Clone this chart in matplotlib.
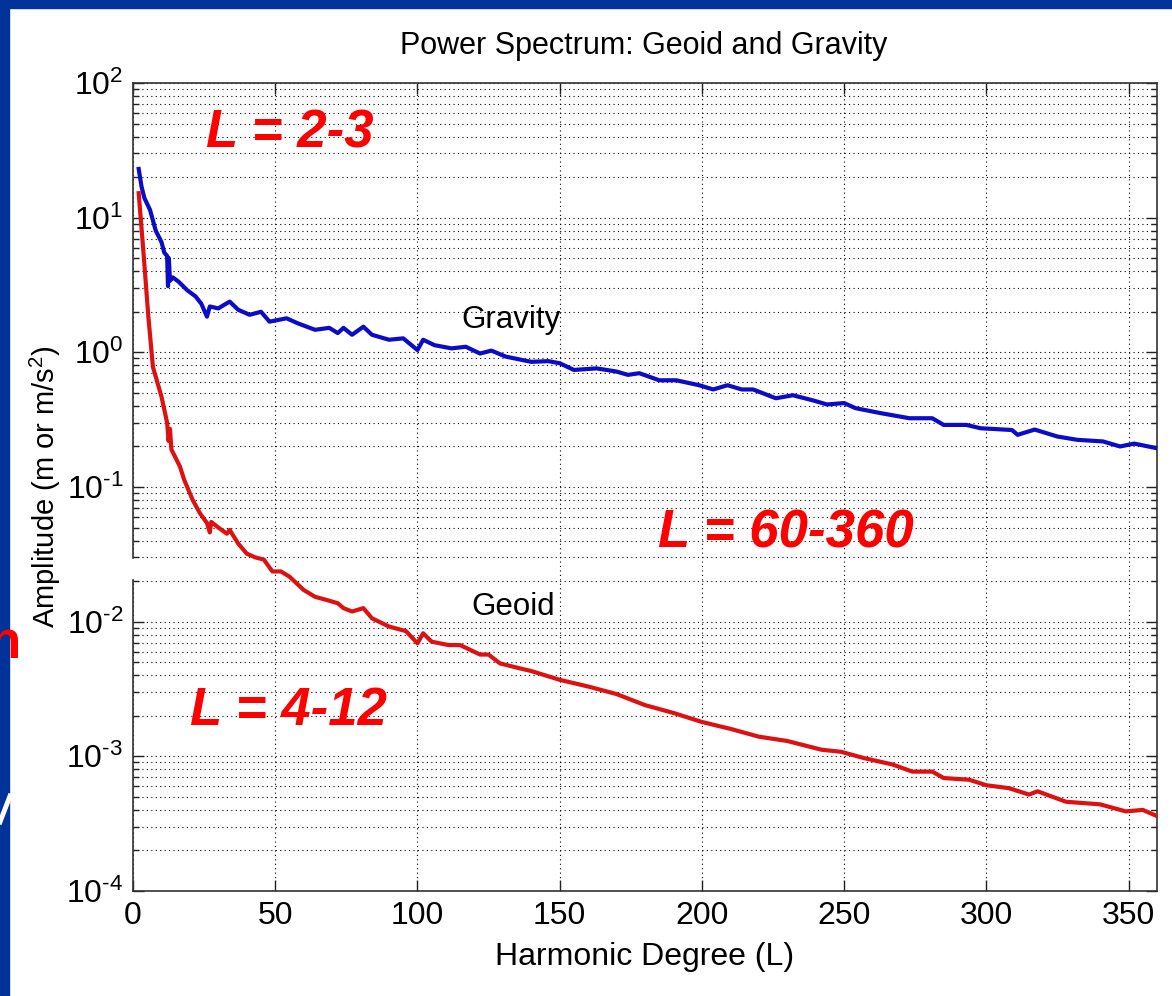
import numpy as np
import matplotlib
matplotlib.use("Agg")
import matplotlib.pyplot as plt
from matplotlib.patches import Rectangle
from matplotlib.lines import Line2D

plt.rcParams['font.family'] = ['Liberation Sans', 'DejaVu Sans']
plt.rcParams['mathtext.fontset'] = 'custom'
plt.rcParams['mathtext.rm'] = 'Liberation Sans'
plt.rcParams['mathtext.it'] = 'Liberation Sans:italic'
plt.rcParams['mathtext.bf'] = 'Liberation Sans:bold'
plt.rcParams['axes.unicode_minus'] = False

# gravity spectrum
grav_L = [2, 3, 4, 6, 8, 10, 11, 12, 12.3, 12.6, 13, 14, 16, 19, 22, 24, 26, 27,
          30, 32, 34, 37, 41, 45, 48, 54, 58, 64, 69, 72, 74, 77, 81, 84, 90, 95,
          100, 102, 106, 112, 117, 122, 126, 131, 140, 146, 150, 155, 163, 170,
          174, 178, 185, 191, 199, 204, 209, 214, 218, 226, 232, 239, 244, 250,
          254, 263, 273, 281, 285, 293, 298, 309, 311, 317, 325, 332, 341, 347,
          352, 360]
grav_amp = [23, 17, 14, 11.4, 8, 6.6, 5.5, 5.2, 3.1, 5.0, 3.4, 3.6, 3.35, 2.9,
            2.6, 2.3, 1.84, 2.19, 2.12, 2.25, 2.38, 2.07, 1.9, 2.0, 1.69, 1.79,
            1.64, 1.47, 1.52, 1.39, 1.52, 1.35, 1.55, 1.35, 1.24, 1.27, 1.04,
            1.24, 1.13, 1.07, 1.10, 0.98, 1.03, 0.93, 0.85, 0.86, 0.83, 0.74,
            0.76, 0.72, 0.68, 0.70, 0.62, 0.62, 0.57, 0.53, 0.57, 0.53, 0.53,
            0.456, 0.48, 0.44, 0.41, 0.42, 0.385, 0.353, 0.324, 0.324, 0.289,
            0.289, 0.273, 0.265, 0.244, 0.267, 0.237, 0.224, 0.218, 0.20, 0.21,
            0.194]

# geoid spectrum
geoid_L = [2, 3.6, 5.4, 7, 10, 12, 12.5, 13, 13.5, 16.5, 18, 21, 23.5, 26, 27,
           27.5, 30, 33, 34, 37, 40, 43, 46, 49, 52, 55, 60, 64, 68, 72, 74, 77,
           81, 84, 90, 96, 100, 102, 105, 111, 115, 122, 125, 129, 136, 140, 150,
           160, 170, 180, 190, 200, 210, 220, 230, 242, 249, 257, 267, 274, 281,
           285, 294, 300, 308, 315, 318, 328, 340, 349, 355, 360]
geoid_amp = [15.2, 5.8, 1.84, 0.78, 0.47, 0.30, 0.22, 0.27, 0.19, 0.142, 0.113,
             0.080, 0.064, 0.054, 0.046, 0.055, 0.050, 0.045, 0.048, 0.038,
             0.032, 0.030, 0.0289, 0.0236, 0.0236, 0.0216, 0.0172, 0.0153,
             0.0145, 0.0137, 0.0126, 0.0119, 0.0126, 0.0106, 0.0092, 0.0085,
             0.0069, 0.0082, 0.0071, 0.0067, 0.0067, 0.0057, 0.0057, 0.0049,
             0.0045, 0.0043, 0.0037, 0.0033, 0.0029, 0.0024, 0.0021, 0.0018,
             0.0016, 0.0014, 0.0013, 0.00112, 0.00108, 0.00097, 0.00087,
             0.00077, 0.00077, 0.00069, 0.00067, 0.00061, 0.00058, 0.00052,
             0.00055, 0.00046, 0.00044, 0.00039, 0.0004, 0.00036]

x_ticks = [0, 50, 100, 150, 200, 250, 300, 350]
y_exps = [-4, -3, -2, -1, 0, 1, 2]

W, H = 1172, 996
fig = plt.figure(figsize=(W / 100, H / 100), dpi=100)
fig.patch.set_facecolor('white')

# slide background strips
slide_blue = '#003399'
fig.patches.append(Rectangle((0, 1 - 8 / H), 1, 8 / H, transform=fig.transFigure,
                             color=slide_blue, zorder=0))
fig.patches.append(Rectangle((0, 0), 9 / W, 1, transform=fig.transFigure,
                             color=slide_blue, zorder=0))

ax = fig.add_axes([133 / W, 1 - 891 / H, (1157 - 133) / W, (891 - 83) / H])
ax.set_yscale('log')
ax.plot(grav_L, grav_amp, color='#0b0bc8', lw=3, zorder=4)
ax.plot(geoid_L, geoid_amp, color='#dd1111', lw=3, zorder=4)
ax.set_xlim(0, 360)
ax.set_ylim(1e-4, 1e2)
ax.set_xticks(x_ticks)

y_major = [10.0 ** e for e in y_exps]
y_labels = [r'$10^{\text{%d}}$' % e for e in y_exps]
ax.set_yticks(y_major, labels=y_labels)
y_minor = [m * 10.0 ** e for e in y_exps[:-1] for m in range(2, 10)]
ax.set_yticks(y_minor, minor=True)
ax.set_yticklabels([], minor=True)

ax.grid(True, which='major', axis='x', color='black', ls=(0, (1, 3)), lw=0.8)
ax.grid(True, which='both', axis='y', color='black', ls=(0, (1, 3)), lw=0.8)
ax.tick_params(which='both', direction='in', top=True, right=True,
               labelsize=23, colors='#222222', labelcolor='black')
ax.tick_params(which='major', length=8, width=1, pad=7)
ax.tick_params(which='minor', length=4, width=1)
for s in ax.spines.values():
    s.set_color('#333333')
    s.set_linewidth(1.2)

fig.text(644 / W, 1 - 46 / H, 'Power Spectrum: Geoid and Gravity',
         fontsize=22, ha='center', va='center')
ax.set_xlabel('Harmonic Degree (L)', fontsize=23, labelpad=8)
ax.set_ylabel('Amplitude (m or m/s$^2$)', fontsize=21, labelpad=2)

fig.text(511 / W, 1 - 320 / H, 'Gravity', fontsize=22.5, ha='center', va='center')
fig.text(513 / W, 1 - 607 / H, 'Geoid', fontsize=22.5, ha='center', va='center')

red_kw = dict(fontsize=38, color='#ff0000', fontweight='bold', style='italic',
              ha='center', va='center')
fig.text(290 / W, 1 - 133 / H, 'L = 2-3', **red_kw)
fig.text(786 / W, 1 - 534 / H, 'L = 60-360', **red_kw)
fig.text(289 / W, 1 - 711 / H, 'L = 4-12', **red_kw)

# white gap over left spine (from slide overlay)
fig.patches.append(Rectangle((128 / W, 1 - 578 / H), 14 / W, 19 / H,
                             transform=fig.transFigure, color='white', zorder=3))

# cut-off slide text on the left edge
fig.text(-12 / W, 1 - 658 / H, 'n', fontsize=38, color='#ff0000',
         fontweight='bold', ha='left', va='baseline')
fig.lines.append(Line2D([0, 10 / W], [1 - 822 / H, 1 - 796 / H],
                        transform=fig.transFigure, color='white', lw=3.5))

fig.savefig('out.png', dpi=100, facecolor='white')
